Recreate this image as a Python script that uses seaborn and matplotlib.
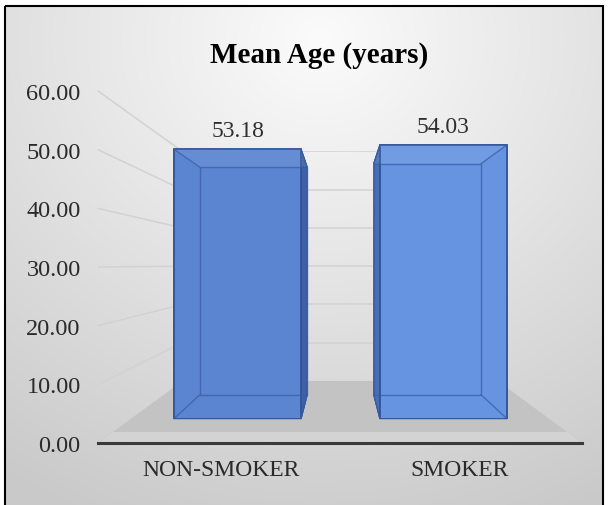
import numpy as np
import pandas as pd
import matplotlib
matplotlib.use("Agg")
import matplotlib.pyplot as plt
import seaborn as sns
from matplotlib.patches import Polygon, Rectangle
from matplotlib.lines import Line2D

# ---------------- data ----------------
categories = ["NON-SMOKER", "SMOKER"]
mean_age = [53.18, 54.03]
y_ticks = [0, 10, 20, 30, 40, 50, 60]
title = "Mean Age (years)"

df = pd.DataFrame({"group": categories, "age": mean_age})

sns.set_theme(style="white")
plt.rcParams["font.family"] = ["Liberation Serif", "DejaVu Serif"]

W, H = 608, 506
fig = plt.figure(figsize=(W / 100, H / 100), dpi=100)
fig.patch.set_facecolor("white")

# ---------------- background (pixel coords) ----------------
ax_bg = fig.add_axes([0, 0, 1, 1], zorder=0)
ax_bg.set_xlim(0, W)
ax_bg.set_ylim(H, 0)
ax_bg.set_axis_off()
yy, xx = np.mgrid[7:H, 5:603]
d = np.hypot(xx - 320, (yy - 40) * 1.1)
val = np.clip(0.985 - d * 0.00034, 0.79, 1.0)
ax_bg.imshow(np.dstack([val] * 3), extent=(5, 603, H, 7), aspect="auto",
             interpolation="bilinear", zorder=0)
ax_bg.add_patch(Rectangle((5, 7), 598, 520, fill=False, edgecolor="black",
                          linewidth=1.5, clip_on=False, zorder=2))

# ---------------- perspective planes ----------------
VX, VY = 340.5, 265.8
REF = (98, 582, 444, 92)          # left, right, bottom(v=0), top(v=60) in px
XLIM = (-0.517, 1.513)
YLIM = (0, 60)


def plane_rect(f):
    L = VX + f * (REF[0] - VX)
    R = VX + f * (REF[1] - VX)
    B = VY + f * (REF[2] - VY)
    T = VY + f * (REF[3] - VY)
    return [L / W, 1 - B / H, (R - L) / W, (B - T) / H]


def reset(ax):
    ax.set_xlim(*XLIM)
    ax.set_ylim(*YLIM)


def plane_axes(f, z):
    ax = fig.add_axes(plane_rect(f), zorder=z)
    reset(ax)
    ax.set_axis_off()
    return ax


def to_px(ax, x, y):
    return ax_bg.transData.inverted().transform(ax.transData.transform((x, y)))


f_wall, f_band, f_bb, f_bf = 0.652, 0.938, 0.7287, 0.8635
ax_wall = plane_axes(f_wall, 1)
ax_band = plane_axes(f_band, 1)
ax_bb = plane_axes(f_bb, 2)
ax_bf = plane_axes(f_bf, 3)
ax_ref = fig.add_axes(plane_rect(1.0), zorder=4)
reset(ax_ref)

T = ax_bg.transData
grid_c = "#d2d2d2"

# back wall gridlines
for t in y_ticks[1:]:
    ax_wall.axhline(t, color=grid_c, linewidth=1.1, zorder=1)
    # side wall gridlines
    p1 = to_px(ax_ref, XLIM[0], t)
    p2 = to_px(ax_wall, XLIM[0], t)
    ax_wall.add_line(Line2D([p1[0], p2[0]], [p1[1], p2[1]], color=grid_c,
                            linewidth=1.1, transform=T, clip_on=False, zorder=1))

# floor
floor = [to_px(ax_wall, XLIM[0], 0), to_px(ax_wall, XLIM[1], 0),
         to_px(ax_ref, XLIM[1], 0), to_px(ax_ref, XLIM[0], 0)]
ax_wall.add_patch(Polygon(floor, closed=True, facecolor="#c3c3c3", edgecolor="none",
                          transform=T, clip_on=False, zorder=2))
band = [to_px(ax_band, XLIM[0], 0), to_px(ax_band, XLIM[1], 0),
        to_px(ax_ref, XLIM[1], 0), to_px(ax_ref, XLIM[0], 0)]
ax_wall.add_patch(Polygon(band, closed=True, facecolor="#d3d3d3", edgecolor="none",
                          transform=T, clip_on=False, zorder=3))

# ---------------- bars ----------------
face_cols = ["#5b85d0", "#6794e0"]
side_cols = ["#3d60a8", "#4870b8"]

# back faces (seen only as side strips)
sns.barplot(data=df, x="group", y="age", hue="group", palette=side_cols,
            width=0.617, saturation=1, errorbar=None, legend=False,
            edgecolor="none", ax=ax_bb)
reset(ax_bb)
ax_bb.set_axis_off()

# front faces
sns.barplot(data=df, x="group", y="age", hue="group", palette=face_cols,
            width=0.617, saturation=1, errorbar=None, legend=False,
            edgecolor="#2f5597", linewidth=1.3, ax=ax_bf)
reset(ax_bf)
ax_bf.set_axis_off()

for cont in ax_bf.containers:
    ax_bf.bar_label(cont, fmt="%.2f", padding=6, fontsize=17, color="#303030")


def corners(ax, p):
    x0, y0, w, h = p.get_x(), p.get_y(), p.get_width(), p.get_height()
    return [to_px(ax, x0, y0), to_px(ax, x0 + w, y0),
            to_px(ax, x0 + w, y0 + h), to_px(ax, x0, y0 + h)]


for i, (pf, pb) in enumerate(zip(ax_bf.patches, ax_bb.patches)):
    cf = corners(ax_bf, pf)
    cb = corners(ax_bb, pb)
    # side faces (behind front face)
    for a, b in [(0, 1), (1, 2), (2, 3), (3, 0)]:
        ax_bb.add_patch(Polygon([cf[a], cf[b], cb[b], cb[a]], closed=True,
                                facecolor=side_cols[i], edgecolor="#2f5597",
                                linewidth=0.8, transform=T, clip_on=False, zorder=1))
    # top face seen through (lighter band)
    ax_ref.add_patch(Polygon([cf[3], cf[2], cb[2], cb[3]], closed=True,
                             facecolor="white", alpha=0.07, edgecolor="none",
                             transform=T, clip_on=False, zorder=3))
    # back face outline
    ax_ref.add_patch(Polygon(cb, closed=True, fill=False, edgecolor="#3a5ea6",
                             linewidth=1.0, alpha=0.75, transform=T,
                             clip_on=False, zorder=3))
    # connecting diagonals
    for k in range(4):
        ax_ref.add_line(Line2D([cf[k][0], cb[k][0]], [cf[k][1], cb[k][1]],
                               color="#3a5ea6", linewidth=1.0, alpha=0.75,
                               transform=T, clip_on=False, zorder=3))

# ---------------- reference axes: ticks, labels ----------------
ax_ref.set_facecolor("none")
ax_ref.set_yticks(y_ticks)
ax_ref.set_yticklabels([f"{t:.2f}" for t in y_ticks])
ax_ref.set_xticks([0, 1])
ax_ref.set_xticklabels(categories)
ax_ref.tick_params(axis="y", length=0, pad=12.5, labelsize=17.5, labelcolor="#2a2a2a")
ax_ref.tick_params(axis="x", length=0, pad=11.5, labelsize=17, labelcolor="#2a2a2a")
ax_ref.grid(False)
for s in ["left", "right", "top"]:
    ax_ref.spines[s].set_visible(False)
ax_ref.spines["bottom"].set_color("#3a3a3a")
ax_ref.spines["bottom"].set_linewidth(2.2)
ax_ref.spines["bottom"].set_zorder(5)

fig.text(319.5 / W, 1 - 63 / H, title, ha="center", va="baseline",
         fontsize=21, fontweight="bold", color="black")

fig.savefig("out.png", dpi=100)
